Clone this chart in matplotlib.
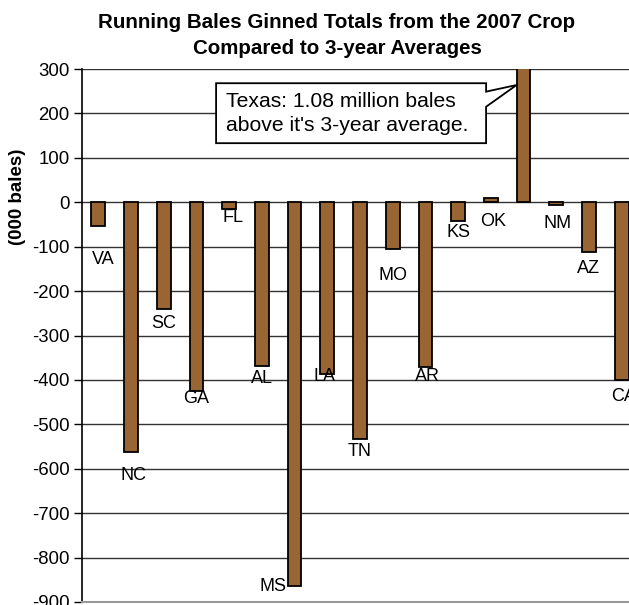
import numpy as np
import matplotlib
matplotlib.use("Agg")
from matplotlib import pyplot as plt
from matplotlib.patches import Polygon

plt.rcParams['font.family'] = ['Liberation Sans', 'DejaVu Sans']
plt.rcParams['axes.unicode_minus'] = False

# running bales ginned, 2007 crop minus 3-year average (000 bales)
states = ["VA", "NC", "SC", "GA", "FL", "AL", "MS", "LA", "TN",
          "MO", "AR", "KS", "OK", "TX", "NM", "AZ", "CA"]
diff = [-53, -562, -240, -426, -15, -368, -863, -386, -532,
        -105, -372, -42, 9, 1080, -7, -112, -400]
yticks = list(range(-900, 301, 100))

# hand placed state labels (x shift in category units, y in data units)
lab_dx = [0.14, 0.06, 0, 0, 0.11, 0, -0.66, -0.1, 0,
          0, 0.05, 0, 0.07, 0, 0.05, 0, 0.05]
lab_y = [-130, -616, -272, -442, -35, -397, -866, -392, -562,
         -166, -392, -69, -44, None, -47, -150, -438]

W, H = 629, 605
fig = plt.figure(figsize=(W / 100, H / 100), dpi=100)
# plot area runs past the right edge of the figure
ax = fig.add_axes([82 / W, 3 / H, 556 / W, 533 / H])

x = np.arange(len(states))
bw = 0.42
ax.bar(x, diff, width=bw, color="#996633", edgecolor="black", linewidth=1.3, zorder=3)

ax.set_xlim(-0.5, len(states) - 0.5)
ax.set_ylim(-900, 300)
ax.set_yticks(yticks)
ax.tick_params(axis="y", labelsize=13.4, length=6, width=1, direction="out", pad=3)
ax.tick_params(axis="x", bottom=False, labelbottom=False)
ax.yaxis.grid(True, color="#333333", linewidth=1)
ax.set_axisbelow(True)
for side in ["top", "right"]:
    ax.spines[side].set_visible(False)
ax.spines["left"].set_linewidth(1.2)
ax.spines["bottom"].set_color("#999999")
ax.spines["bottom"].set_linewidth(1.5)

for i, name in enumerate(states):
    if lab_y[i] is None:
        continue
    ax.text(i + lab_dx[i], lab_y[i], name, ha="center", va="center",
            fontsize=13, zorder=4)

# callout box pointing at the Texas bar
tx = states.index("TX")
x0, x1 = 3.6, 11.855
y0, y1 = 133, 268
tip = (tx - bw / 2, 264)
box = Polygon([(x0, y1), (x1, y1), (x1, 249), tip, (x1, 215), (x1, y0), (x0, y0)],
              closed=True, facecolor="white", edgecolor="black", linewidth=1.3,
              zorder=5, clip_on=False)
ax.add_patch(box)
ax.text(x0 + 0.3, (y0 + y1) / 2, "Texas: 1.08 million bales\nabove it's 3-year average.",
        ha="left", va="center", fontsize=15.2, linespacing=1.35, zorder=6)

fig.text(337 / W, 1 - 35.5 / H,
         "Running Bales Ginned Totals from the 2007 Crop\nCompared to 3-year Averages",
         ha="center", va="center", fontsize=14.8, fontweight="bold", linespacing=1.4)
fig.text(18 / W, 1 - 197 / H, "(000 bales)", rotation=90, ha="center", va="center",
         fontsize=13.5, fontweight="bold")

fig.savefig("out.png", dpi=100)
